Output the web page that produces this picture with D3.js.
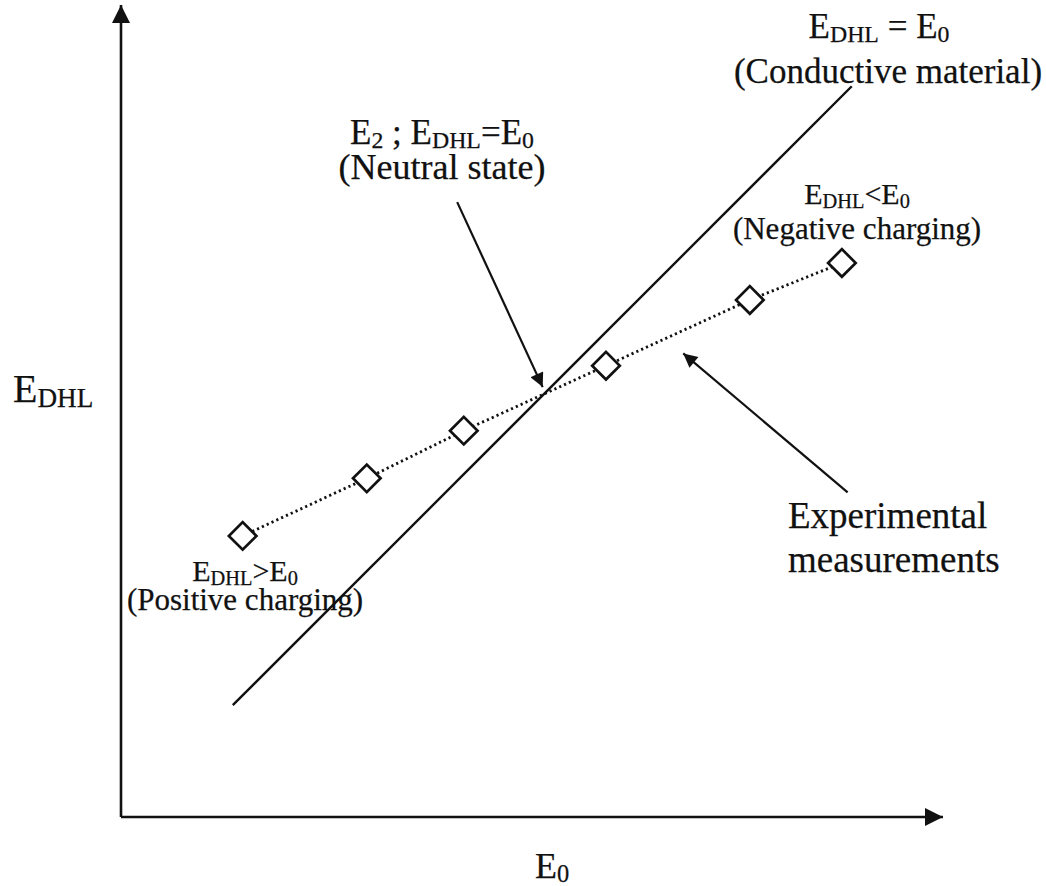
<!DOCTYPE html>
<html>
<head>
<meta charset="utf-8">
<script src="https://cdn.jsdelivr.net/npm/d3@7"></script>
<style>
  html, body { margin: 0; padding: 0; background: #fff; }
  svg { display: block; }
  text { font-family: "Liberation Serif", "Times New Roman", serif; fill: #111; stroke: #111; stroke-width: 0.25; }
</style>
</head>
<body>
<svg id="chart" width="1046" height="886"></svg>
<script>
// Measured points: primary energy E0 vs. energy of the Duane–Hunt limit E_DHL
const e0Values   = [14.8, 29.9, 41.7, 59.0, 76.5, 87.7];
const edhlValues = [34.2, 41.2, 47.0, 54.9, 62.9, 67.4];

// Reference line for a conductive material: E_DHL = E0
const conductiveE0 = [13.6, 88.9];

// Annotation arrows (data units): [fromE0, fromEdhl, toE0, toEdhl]
const neutralArrow      = [40.9, 74.8, 51.3, 52.3];
const experimentalArrow = [88.4, 39.5, 68.4, 56.4];

const svg = d3.select("#chart");
const ink = "#111";

const x = d3.scaleLinear().domain([0, 100]).range([121, 943]);
const y = d3.scaleLinear().domain([0, 100]).range([817, -5]);

// arrowheads
const defs = svg.append("defs");
function marker(id, w, h) {
  defs.append("marker")
    .attr("id", id)
    .attr("viewBox", "0 0 10 10")
    .attr("refX", 10).attr("refY", 5)
    .attr("markerUnits", "userSpaceOnUse")
    .attr("markerWidth", w).attr("markerHeight", h)
    .attr("orient", "auto")
    .append("path")
    .attr("d", "M0,0 L10,5 L0,10 Z")
    .attr("fill", ink);
}
marker("axisHead", 20, 18);
marker("noteHead", 18, 14);

const line = d3.line().x(d => x(d[0])).y(d => y(d[1]));

// axes
const yTop = y.invert(5);
svg.append("path")
  .attr("d", line([[0, 0], [100, 0]]))
  .attr("stroke", ink).attr("stroke-width", 2.6).attr("fill", "none")
  .attr("marker-end", "url(#axisHead)");
svg.append("path")
  .attr("d", line([[0, 0], [0, yTop]]))
  .attr("stroke", ink).attr("stroke-width", 2.6).attr("fill", "none")
  .attr("marker-end", "url(#axisHead)");

// conductive material line
svg.append("path")
  .attr("d", line(conductiveE0.map(v => [v, v])))
  .attr("stroke", ink).attr("stroke-width", 2.4).attr("fill", "none");

// experimental series: dotted line + open diamonds
const pts = e0Values.map((v, i) => [v, edhlValues[i]]);
svg.append("path")
  .attr("d", line(pts))
  .attr("stroke", ink).attr("stroke-width", 2.8).attr("fill", "none")
  .attr("stroke-dasharray", "2.2 3.1");

const diamond = d3.symbol().type(d3.symbolSquare).size(19.5 * 19.5);
svg.append("g").selectAll("path")
  .data(pts)
  .join("path")
  .attr("d", diamond)
  .attr("transform", d => `translate(${x(d[0])},${y(d[1])}) rotate(45)`)
  .attr("fill", "#fff").attr("stroke", ink).attr("stroke-width", 2.7);

// annotation arrows
[neutralArrow, experimentalArrow].forEach(a => {
  svg.append("path")
    .attr("d", line([[a[0], a[1]], [a[2], a[3]]]))
    .attr("stroke", ink).attr("stroke-width", 2.2).attr("fill", "none")
    .attr("marker-end", "url(#noteHead)");
});

// multi-line label in one text element; each line: {x, y, size, parts}
// parts = [[text, isSub], ...]
function label(lines, anchor) {
  const t = svg.append("text").attr("text-anchor", anchor || "middle");
  lines.forEach(ln => {
    let shifted = false, first = true;
    ln.parts.forEach(([s, sub]) => {
      const ts = t.append("tspan").text(s);
      if (first) { ts.attr("x", ln.x).attr("y", ln.y); first = false; }
      ts.attr("font-size", sub ? ln.size * 0.68 : ln.size);
      if (sub && !shifted) { ts.attr("dy", ln.size * 0.12); shifted = true; }
      else if (!sub && shifted) { ts.attr("dy", -ln.size * 0.12); shifted = false; }
    });
  });
  return t;
}

// conductive line label
label([
  { x: 879, y: 38, size: 35, parts: [["E"], ["DHL", true], [" = E"], ["0", true]] },
  { x: 888, y: 83, size: 35, parts: [["(Conductive material)"]] }
]);

// neutral state label
label([
  { x: 442, y: 144, size: 35, parts: [["E"], ["2", true], [" ; E"], ["DHL", true], ["=E"], ["0", true]] },
  { x: 442, y: 179, size: 36, parts: [["(Neutral state)"]] }
]);

// negative charging label
label([
  { x: 857, y: 204, size: 30, parts: [["E"], ["DHL", true], ["<E"], ["0", true]] },
  { x: 857, y: 239, size: 31, parts: [["(Negative charging)"]] }
]);

// positive charging label
label([
  { x: 245, y: 581, size: 30, parts: [["E"], ["DHL", true], [">E"], ["0", true]] },
  { x: 245, y: 610, size: 31, parts: [["(Positive charging)"]] }
]);

// experimental measurements label
label([
  { x: 788, y: 528, size: 37, parts: [["Experimental"]] },
  { x: 788, y: 572, size: 37, parts: [["measurements"]] }
], "start");

// axis titles
label([{ x: 13, y: 402, size: 40, parts: [["E"], ["DHL", true]] }], "start");
label([{ x: 535, y: 878, size: 36, parts: [["E"], ["0", true]] }], "start");
</script>
</body>
</html>
